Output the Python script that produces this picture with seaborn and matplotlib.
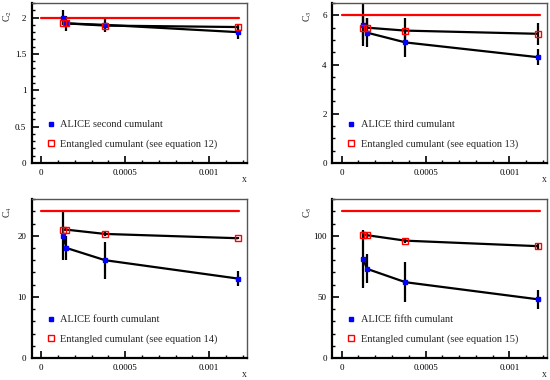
import matplotlib
matplotlib.use('Agg')
import matplotlib.pyplot as plt
import seaborn as sns
import pandas as pd
from matplotlib.ticker import MultipleLocator, FuncFormatter

sns.set_theme(style='ticks')
plt.rcParams['font.family'] = ['Liberation Serif', 'DejaVu Serif']
plt.rcParams['mathtext.fontset'] = 'stix'

# data
x_vals = [0.00013, 0.00015, 0.00038, 0.00117]
limit_x = [0.0, 0.00118]

c2_alice = [2.0, 1.92, 1.9, 1.8]
c2_alice_err = [0.1, 0.1, 0.1, 0.1]
c2_ent = [1.92, 1.92, 1.89, 1.87]
c2_ent_err = [0.02, 0.02, 0.02, 0.02]

c3_alice = [5.6, 5.3, 4.9, 4.3]
c3_alice_err = [0.85, 0.6, 0.6, 0.33]
c3_ent = [5.5, 5.5, 5.38, 5.25]
c3_ent_err = [0.5, 0.4, 0.5, 0.45]

c4_alice = [20.0, 18.0, 16.0, 13.0]
c4_alice_err = [4.0, 2.0, 3.0, 1.2]
c4_ent = [21.0, 21.0, 20.3, 19.6]
c4_ent_err = [0.3, 0.3, 0.3, 0.2]

c5_alice = [81.0, 73.0, 62.0, 48.0]
c5_alice_err = [24.0, 12.0, 16.5, 8.0]
c5_ent = [101.0, 100.5, 96.0, 91.5]
c5_ent_err = [3.0, 2.0, 2.0, 2.0]

limits = [2, 6, 24, 120]
orders = ['second', 'third', 'fourth', 'fifth']
equations = [12, 13, 14, 15]
ymax = [2.2, 6.5, 26, 130]
ymajor = [0.5, 2, 10, 50]
yminor = [0.1, 0.5, 2, 10]

panels = [
    (c2_alice, c2_alice_err, c2_ent, c2_ent_err),
    (c3_alice, c3_alice_err, c3_ent, c3_ent_err),
    (c4_alice, c4_alice_err, c4_ent, c4_ent_err),
    (c5_alice, c5_alice_err, c5_ent, c5_ent_err),
]

fig = plt.figure(figsize=(5.5, 3.8), dpi=100)
rects = [
    [0.058, 0.571, 0.391, 0.421],
    [0.604, 0.571, 0.391, 0.421],
    [0.058, 0.058, 0.391, 0.418],
    [0.604, 0.058, 0.391, 0.418],
]

for i, (alice, alice_err, ent, ent_err) in enumerate(panels):
    ax = fig.add_axes(rects[i])
    df = pd.DataFrame({'x': x_vals, 'alice': alice, 'ent': ent})
    lim = pd.DataFrame({'x': limit_x, 'y': [limits[i]] * 2})

    sns.lineplot(data=df, x='x', y='alice', ax=ax, color='black', lw=1.6, zorder=2)
    sns.lineplot(data=df, x='x', y='ent', ax=ax, color='black', lw=1.6, zorder=2)
    ax.errorbar(x_vals, alice, yerr=alice_err, fmt='none', ecolor='black', elinewidth=1.6, zorder=2)
    ax.errorbar(x_vals, ent, yerr=ent_err, fmt='none', ecolor='black', elinewidth=1.6, zorder=2)
    sns.lineplot(data=lim, x='x', y='y', ax=ax, color='red', lw=1.6, zorder=3)

    ax.plot(df['x'], df['alice'], ls='none', marker='s', ms=3.0, mfc='blue', mec='blue',
            zorder=4, label=f'ALICE {orders[i]} cumulant')
    ax.plot(df['x'], df['ent'], ls='none', marker='s', ms=4.5, mfc='none', mec='red', mew=1.0,
            zorder=5, label=f'Entangled cumulant (see equation {equations[i]})')

    ax.set_xlim(-0.000056, 0.001225)
    ax.set_ylim(0, ymax[i])
    ax.xaxis.set_major_locator(MultipleLocator(0.0005))
    ax.xaxis.set_minor_locator(MultipleLocator(0.0001))
    ax.xaxis.set_major_formatter(FuncFormatter(lambda v, p: f'{v:g}' if abs(v) > 1e-12 else '0'))
    ax.yaxis.set_major_locator(MultipleLocator(ymajor[i]))
    ax.yaxis.set_minor_locator(MultipleLocator(yminor[i]))
    ax.yaxis.set_major_formatter(FuncFormatter(lambda v, p: f'{v:g}'))

    ax.tick_params(which='both', direction='in', top=False, right=False, labelsize=6.5,
                   colors='black', pad=4)
    ax.tick_params(which='major', length=5, width=1.2)
    ax.tick_params(which='minor', length=2.5, width=1.0)

    for s in ['left', 'bottom']:
        ax.spines[s].set_color('black')
        ax.spines[s].set_linewidth(1.6)
    for s in ['top', 'right']:
        ax.spines[s].set_color('#555555')
        ax.spines[s].set_linewidth(1.0)

    ax.set_xlabel('x', loc='right', fontsize=7)
    ax.xaxis.set_label_coords(1.0, -0.075)
    ax.set_ylabel(f'C$_{i + 2}$', loc='top', fontsize=7)
    ax.yaxis.set_label_coords(-0.085, 0.955)

    ax.legend(loc='lower left', bbox_to_anchor=(0.05, 0.06), frameon=False, fontsize=7.5,
              handlelength=0.8, handletextpad=0.5, labelspacing=1.0, borderaxespad=0)

fig.savefig('out.png', dpi=100)
